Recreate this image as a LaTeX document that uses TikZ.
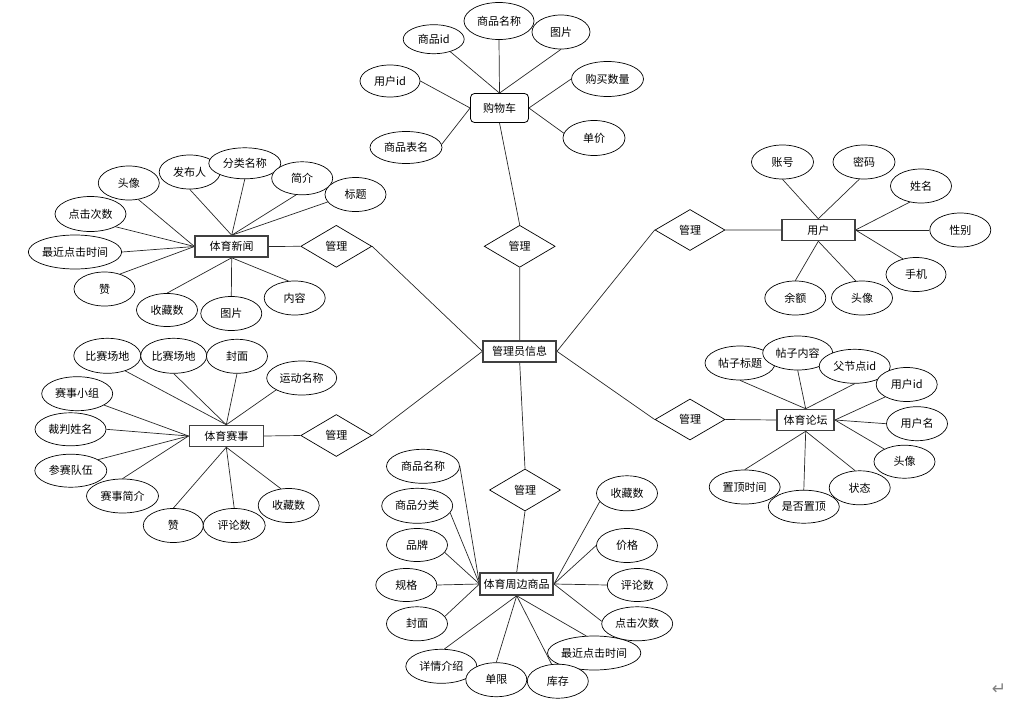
\documentclass[tikz,border=0pt]{standalone}
\usepackage{fontspec}
\usetikzlibrary{shapes.geometric}
\newfontfamily\cjk{Noto Sans CJK SC}
\newfontfamily\djv{DejaVu Sans}
\pgfdeclarelayer{bg}
\pgfsetlayers{bg,main}
\tikzset{
  txt/.style={font=\cjk\fontsize{11}{12}\selectfont},
  ent/.style={txt, rectangle, draw=black!75, line width=1.5pt, fill=white, minimum width=73pt, minimum height=21pt, inner sep=0pt},
  attr/.style={txt, ellipse, draw=black, line width=0.7pt, fill=white, minimum width=61pt, minimum height=34pt, inner sep=0pt},
  rel/.style={txt, diamond, aspect=1.7, draw=black, line width=0.7pt, fill=white, minimum width=71pt, minimum height=42pt, inner sep=0pt},
  ln/.style={draw=black!85, line width=0.7pt},
}
\begin{document}
\begin{tikzpicture}[x=1pt,y=-1pt]
\useasboundingbox (0,0) rectangle (1013,707);

% ---------- entities ----------
\node[ent] (gly) at (519.7,351.3) {管理员信息};
\node[ent, rounded corners=4pt, draw=black, line width=0.8pt, minimum width=58pt, minimum height=29pt] (gwc) at (499.5,108) {购物车};
\node[ent] (yh) at (818.3,230) {用户};
\node[ent] (xw) at (231.7,246.5) {体育新闻};
\node[ent, minimum width=74pt] (ss) at (226.3,436) {体育赛事};
\node[ent, minimum width=57pt] (lt) at (805.7,420) {体育论坛};
\node[ent, minimum height=22pt] (zb) at (516.7,584) {体育周边商品};

% ---------- relations ----------
\node[rel] (d1) at (519.7,246.3) {管理};
\node[rel] (d2) at (336.3,246.3) {管理};
\node[rel] (d3) at (336.3,435.5) {管理};
\node[rel, minimum width=70pt, minimum height=41pt] (d4) at (690,230) {管理};
\node[rel, minimum width=70pt, minimum height=41pt] (d5) at (690,419.5) {管理};
\node[rel] (d6) at (525,490) {管理};

% ---------- 购物车 attributes ----------
\node[attr, minimum height=29pt] (g1) at (433.7,39.2) {商品id};
\node[attr, minimum width=70pt, minimum height=37pt] (g2) at (499,21) {商品名称};
\node[attr, minimum width=58pt] (g3) at (561,32) {图片};
\node[attr, minimum width=60pt, minimum height=32pt] (g4) at (390,81) {用户id};
\node[attr, minimum width=72pt, minimum height=35pt] (g5) at (607.5,79) {购买数量};
\node[attr, minimum width=62pt, minimum height=35pt] (g6) at (594,138) {单价};
\node[attr, minimum width=72pt, minimum height=32pt] (g7) at (406,147.5) {商品表名};

% ---------- 用户 attributes ----------
\node[attr, minimum width=62pt] (u1) at (782.5,162) {账号};
\node[attr, minimum width=62pt] (u2) at (864,162) {密码};
\node[attr] (u3) at (921,186) {姓名};
\node[attr] (u4) at (960.3,230) {性别};
\node[attr, minimum width=60pt] (u5) at (916,274.5) {手机};
\node[attr] (u6) at (862,298) {头像};
\node[attr] (u7) at (795.3,298) {余额};

% ---------- 体育新闻 attributes ----------
\node[attr] (n1) at (128.8,183) {头像};
\node[attr, minimum width=71pt, minimum height=35pt] (n2) at (90.5,214) {点击次数};
\node[attr, minimum width=92pt] (n3) at (75,252) {最近点击时间};
\node[attr] (n4) at (104.5,289) {赞};
\node[attr, minimum height=33pt] (n5) at (167,310) {收藏数};
\node[attr] (n6) at (231.3,313.5) {图片};
\node[attr] (n7) at (294.7,298) {内容};
\node[attr] (n8) at (189.7,172) {发布人};
\node[attr, minimum width=72pt, minimum height=31pt] (n9) at (244.8,163.3) {分类名称};
\node[attr, minimum height=33pt] (n10) at (302.2,178.3) {简介};
\node[attr] (n11) at (355.5,194.5) {标题};

% ---------- 体育赛事 attributes ----------
\node[attr, minimum width=67pt, minimum height=35pt] (s1) at (107.3,355.8) {比赛场地};
\node[attr, minimum width=66pt, minimum height=35pt] (s2) at (173.7,355.8) {比赛场地};
\node[attr] (s3) at (237,356.3) {封面};
\node[attr, minimum width=70pt] (s4) at (301.7,378) {运动名称};
\node[attr, minimum width=71pt] (s5) at (77.2,393.7) {赛事小组};
\node[attr, minimum width=71pt, minimum height=33pt] (s6) at (70.5,429.3) {裁判姓名};
\node[attr, minimum width=72pt, minimum height=33pt] (s7) at (70.8,470.7) {参赛队伍};
\node[attr, minimum width=72pt] (s8) at (122.5,496) {赛事简介};
\node[attr, minimum width=60pt] (s9) at (173.3,525.5) {赞};
\node[attr, minimum width=62pt] (s10) at (234.2,525.5) {评论数};
\node[attr] (s11) at (288.7,505.5) {收藏数};

% ---------- 体育论坛 attributes ----------
\node[attr, minimum width=70pt] (t1) at (740,363) {帖子标题};
\node[attr, minimum width=70pt] (t2) at (797.7,353) {帖子内容};
\node[attr, minimum width=71pt] (t3) at (854.7,366.3) {父节点id};
\node[attr] (t4) at (906.7,384.5) {用户id};
\node[attr] (t5) at (917,423.7) {用户名};
\node[attr, minimum height=33pt] (t6) at (904.5,461.7) {头像};
\node[attr] (t7) at (859.7,487.8) {状态};
\node[attr, minimum width=71pt, minimum height=33pt] (t8) at (803.8,506.7) {是否置顶};
\node[attr, minimum width=71pt] (t9) at (744.7,487) {置顶时间};

% ---------- 体育周边商品 attributes ----------
\node[attr, minimum width=73pt] (p1) at (423,466.3) {商品名称};
\node[attr, minimum width=71pt, minimum height=35pt] (p2) at (417.2,505.8) {商品分类};
\node[attr, minimum height=33pt] (p3) at (417,545) {品牌};
\node[attr, minimum height=33pt] (p4) at (406.3,585) {规格};
\node[attr] (p5) at (417,623.8) {封面};
\node[attr, minimum width=71pt] (p6) at (441.3,666.3) {详情介绍};
\node[attr] (p7) at (496.3,679.7) {单限};
\node[attr, minimum width=92pt] (p9) at (594.2,653) {最近点击时间};
\node[attr] (p8) at (557.8,681.2) {库存};
\node[attr, minimum width=71pt] (p10) at (637.2,623.8) {点击次数};
\node[attr, minimum width=60pt, minimum height=33pt] (p11) at (637.3,585) {评论数};
\node[attr] (p12) at (627,545.5) {价格};
\node[attr, minimum height=35pt] (p13) at (627,493.3) {收藏数};

\node[font=\djv\fontsize{17}{18}\selectfont, text=black!50] (ret) at (999,689) {↵};

% ---------- connectors ----------
\begin{pgfonlayer}{bg}
\draw[ln] (gly.north) -- (d1.south) (d1.north) -- (gwc.south);
\draw[ln] (gly.west) -- (d2.east) (d2.west) -- (xw.east);
\draw[ln] (gly.west) -- (d3.east) (d3.west) -- (ss.east);
\draw[ln] (gly.east) -- (d4.west) (d4.east) -- (yh.west);
\draw[ln] (gly.east) -- (d5.west) (d5.east) -- (lt.west);
\draw[ln] (gly.south) -- (d6.north) (d6.south) -- (zb.north);

% 购物车
\draw[ln] (gwc.north) -- (g1.-37);
\draw[ln] (gwc.north) -- (g2.-90);
\draw[ln] (gwc.north) -- (g3.-90);
\draw[ln] (gwc.west) -- (g4.0);
\draw[ln] (gwc.east) -- (g5.180);
\draw[ln] (gwc.east) -- (g6.171);
\draw[ln] (gwc.west) -- (g7.5);

% 用户
\draw[ln] (yh.north) -- (u1.-90);
\draw[ln] (yh.north) -- (u2.-105);
\draw[ln] (yh.east) -- (u3.-125);
\draw[ln] (yh.east) -- (u4.180);
\draw[ln] (yh.east) -- (u5.130);
\draw[ln] (yh.south) -- (u6.110);
\draw[ln] (yh.south) -- (u7.90);

% 体育新闻
\draw[ln] (xw.west) -- (n1.-60);
\draw[ln] (xw.west) -- (n2.-27);
\draw[ln] (xw.west) -- (n3.0);
\draw[ln] (xw.west) -- (n4.44);
\draw[ln] (xw.south) -- (n5.90);
\draw[ln] (xw.south) -- (n6.90);
\draw[ln] (xw.south) -- (n7.110);
\draw[ln] (xw.north) -- (n8.-90);
\draw[ln] (xw.north) -- (n9.-90);
\draw[ln] (xw.north) -- (n10.-110);
\draw[ln] (xw.north) -- (n11.-165);

% 体育赛事
\draw[ln] (ss.north) -- (s1.-40);
\draw[ln] (ss.north) -- (s2.-90);
\draw[ln] (ss.north) -- (s3.-90);
\draw[ln] (ss.north) -- (s4.-155);
\draw[ln] (ss.west) -- (s5.-23);
\draw[ln] (ss.west) -- (s6.0);
\draw[ln] (ss.west) -- (s7.22);
\draw[ln] (ss.west) -- (s8.90);
\draw[ln] (ss.south) -- (s9.90);
\draw[ln] (ss.south) -- (s10.90);
\draw[ln] (ss.south) -- (s11.115);

% 体育论坛
\draw[ln] (lt.north) -- (t1.-90);
\draw[ln] (lt.north) -- (t2.-90);
\draw[ln] (lt.north) -- (t3.-90);
\draw[ln] (lt.east) -- (t4.-150);
\draw[ln] (lt.east) -- (t5.180);
\draw[ln] (lt.east) -- (t6.148);
\draw[ln] (lt.south) -- (t7.105);
\draw[ln] (lt.south) -- (t8.90);
\draw[ln] (lt.south) -- (t9.90);

% 体育周边商品
\draw[ln] (zb.west) -- (p1.0);
\draw[ln] (zb.west) -- (p2.-12);
\draw[ln] (zb.west) -- (p3.-15);
\draw[ln] (zb.west) -- (p4.0);
\draw[ln] (zb.west) -- (p5.15);
\draw[ln] (zb.south) -- (p6.80);
\draw[ln] (zb.south) -- (p7.90);
\draw[ln] (zb.south) -- (p8.110);
\draw[ln] (zb.south) -- (p9.115);
\draw[ln] (zb.east) -- (p10.176);
\draw[ln] (zb.east) -- (p11.180);
\draw[ln] (zb.east) -- (p12.180);
\draw[ln] (zb.east) -- (p13.-163);
\end{pgfonlayer}
\end{tikzpicture}
\end{document}
